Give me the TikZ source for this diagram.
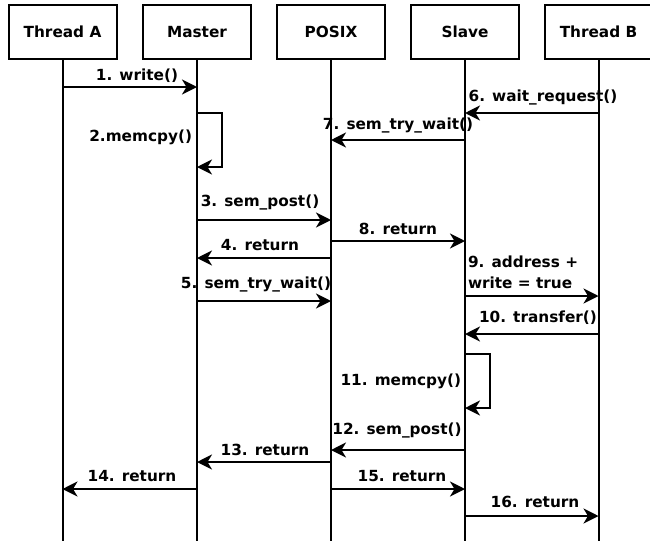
\documentclass[tikz,border=0pt]{standalone}
\usepackage{fontspec}
\setmainfont{DejaVu Sans}
\usetikzlibrary{arrows.meta}
\begin{document}
\begin{tikzpicture}[x=1pt,y=-1pt,line width=2pt,
  actor/.style={draw,minimum width=108pt,minimum height=54pt,inner sep=0pt,font=\bfseries\fontsize{15.3}{18}\selectfont},
  msg/.style={-{Stealth[length=15pt,width=15pt,inset=4.5pt]}},
  lbl/.style={inner sep=1pt,font=\bfseries\fontsize{15.3}{21}\selectfont}]
\useasboundingbox (0,0) rectangle (650,541);
% actors
\node[actor] (ta) at (62.5,32) {Thread A};
\node[actor] (ma) at (197,32) {Master};
\node[actor] (po) at (331,32) {POSIX};
\node[actor] (sl) at (465,32) {Slave};
\node[actor] (tb) at (598.5,32) {Thread B};
% lifelines
\coordinate (taend) at (62.5,541);
\coordinate (maend) at (197,541);
\coordinate (poend) at (331,541);
\coordinate (slend) at (465,541);
\coordinate (tbend) at (598.5,541);
\draw (ta.south) -- (taend);
\draw (ma.south) -- (maend);
\draw (po.south) -- (poend);
\draw (sl.south) -- (slend);
\draw (tb.south) -- (tbend);
% messages
\draw[msg] (ta.south |- 0,87) -- (ma.south |- 0,87);
\node[lbl] (l1) at (137,76) {1. write()};
\draw[msg] (ma.south |- 0,113) -- ++(25,0) |- (ma.south |- 0,167);
\node[lbl,anchor=east] (l2) at (194,137) {2.memcpy()};
\draw[msg] (tb.south |- 0,113) -- (sl.south |- 0,113);
\node[lbl] (l6) at (543,97) {6. wait\_request()};
\draw[msg] (sl.south |- 0,140) -- (po.south |- 0,140);
\node[lbl] (l7) at (398,125) {7. sem\_try\_wait()};
\draw[msg] (ma.south |- 0,220) -- (po.south |- 0,220);
\node[lbl] (l3) at (260,202) {3. sem\_post()};
\draw[msg] (po.south |- 0,241) -- (sl.south |- 0,241);
\node[lbl] (l8) at (398,229) {8. return};
\draw[msg] (po.south |- 0,258) -- (ma.south |- 0,258);
\node[lbl] (l4) at (260,245) {4. return};
\draw[msg] (sl.south |- 0,296) -- (tb.south |- 0,296);
\node[lbl,anchor=west,align=left] (l9) at (466,272) {9. address +\\write = true};
\draw[msg] (ma.south |- 0,301) -- (po.south |- 0,301);
\node[lbl] (l5) at (256,284) {5. sem\_try\_wait()};
\draw[msg] (tb.south |- 0,334) -- (sl.south |- 0,334);
\node[lbl] (l10) at (538,318) {10. transfer()};
\draw[msg] (sl.south |- 0,354) -- ++(25,0) |- (sl.south |- 0,408);
\node[lbl,anchor=east] (l11) at (463,381) {11. memcpy()};
\draw[msg] (sl.south |- 0,450) -- (po.south |- 0,450);
\node[lbl] (l12) at (397,430) {12. sem\_post()};
\draw[msg] (po.south |- 0,462) -- (ma.south |- 0,462);
\node[lbl] (l13) at (265,450) {13. return};
\draw[msg] (ma.south |- 0,489) -- (ta.south |- 0,489);
\node[lbl] (l14) at (132,476) {14. return};
\draw[msg] (po.south |- 0,489) -- (sl.south |- 0,489);
\node[lbl] (l15) at (402,476) {15. return};
\draw[msg] (sl.south |- 0,516) -- (tb.south |- 0,516);
\node[lbl] (l16) at (535,502) {16. return};
\end{tikzpicture}
\end{document}
